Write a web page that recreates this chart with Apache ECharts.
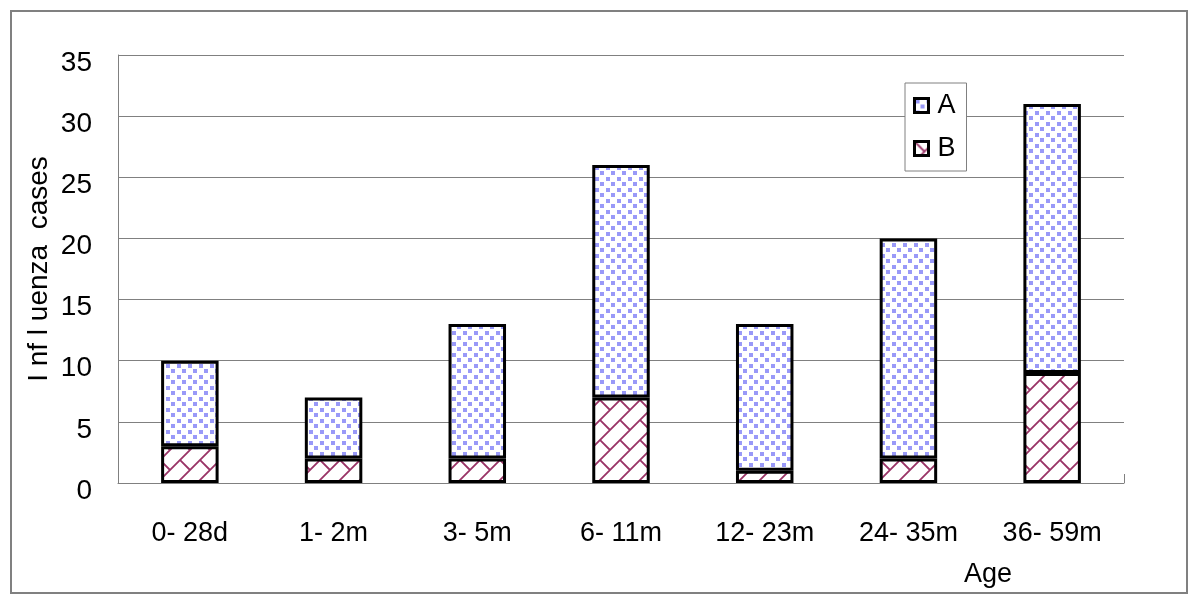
<!DOCTYPE html>
<html>
<head>
<meta charset="utf-8">
<script src="https://cdn.jsdelivr.net/npm/echarts@6/dist/echarts.min.js"></script>
<style>
html,body{margin:0;padding:0;background:#fff;}
#chart{width:1200px;height:604px;}
</style>
</head>
<body>
<div id="chart"></div>
<script>
const categories = ['0- 28d', '1- 2m', '3- 5m', '6- 11m', '12- 23m', '24- 35m', '36- 59m'];
const seriesNames = ['A', 'B'];
const valuesB = [3, 2, 2, 7, 1, 2, 9];
const valuesA = [7, 5, 11, 19, 12, 18, 22];
const yTicks = [0, 5, 10, 15, 20, 25, 30, 35];
const yAxisName = 'I nf l uenza  cases';
const xAxisName = 'Age';

function patternA() {
  const s = 11;
  const c = document.createElement('canvas');
  c.width = s; c.height = s;
  const g = c.getContext('2d');
  g.fillStyle = '#ffffff'; g.fillRect(0, 0, s, s);
  g.fillStyle = '#9999f8';
  g.fillRect(1, 1, 4, 4);
  g.fillRect(6, 6, 4, 4);
  return c;
}
function patternB() {
  const s = 20;
  const c = document.createElement('canvas');
  c.width = s; c.height = s;
  const g = c.getContext('2d');
  g.fillStyle = '#ffffff'; g.fillRect(0, 0, s, s);
  g.strokeStyle = '#993366'; g.lineWidth = 1.8;
  g.beginPath();
  g.moveTo(-2, s + 2); g.lineTo(s + 2, -2);
  g.moveTo(-2, 2); g.lineTo(2, -2);
  g.moveTo(s - 2, s + 2); g.lineTo(s + 2, s - 2);
  g.moveTo(0, 0); g.lineTo(s / 2, s / 2);
  g.stroke();
  return c;
}

const chart = echarts.init(document.getElementById('chart'), null, {renderer: 'canvas'});
const FONT = '"Liberation Sans", Arial, sans-serif';
const fillA = {image: patternA(), repeat: 'repeat'};
const fillB = {image: patternB(), repeat: 'repeat'};

chart.setOption({
  animation: false,
  backgroundColor: '#ffffff',
  textStyle: {fontFamily: FONT, color: '#000'},
  grid: {left: 118, right: 76, top: 55, bottom: 121, containLabel: false},
  legend: {
    data: seriesNames,
    orient: 'vertical',
    left: 905, top: 83,
    backgroundColor: '#ffffff',
    borderColor: '#808080', borderWidth: 1,
    padding: [9, 11, 9, 8],
    itemWidth: 14, itemHeight: 14,
    itemGap: 16,
    icon: 'rect',
    itemStyle: {borderColor: '#000', borderWidth: 3},
    textStyle: {fontFamily: FONT, fontSize: 27, color: '#000', lineHeight: 26, padding: [0, 0, 0, 4]}
  },
  xAxis: {
    type: 'category',
    data: categories,
    name: xAxisName,
    nameLocation: 'middle',
    nameGap: 78,
    nameMoveOverlap: false,
    nameTextStyle: {fontFamily: FONT, fontSize: 27, color: '#000', padding: [0, 0, 0, 734]},
    axisLine: {lineStyle: {color: '#808080', width: 1}},
    axisTick: {show: false},
    axisLabel: {fontFamily: FONT, fontSize: 27, color: '#000', margin: 37}
  },
  yAxis: {
    type: 'value',
    min: 0, max: 35, interval: 5,
    name: yAxisName,
    nameLocation: 'middle',
    nameRotate: 90,
    nameGap: 65,
    nameMoveOverlap: false,
    nameTextStyle: {fontFamily: FONT, fontSize: 28, color: '#000'},
    axisLine: {show: true, lineStyle: {color: '#808080', width: 1}},
    axisTick: {show: false},
    splitLine: {lineStyle: {color: '#808080', width: 1}},
    axisLabel: {
      fontFamily: FONT, fontSize: 28, color: '#000', margin: 26,
      verticalAlign: 'top', lineHeight: 16,
      formatter: function (v) { return yTicks.indexOf(v) >= 0 ? String(v) : ''; }
    }
  },
  series: [
    {
      name: seriesNames[1], type: 'bar', stack: 'total', data: valuesB,
      barWidth: '40%',
      itemStyle: {color: fillB, borderColor: '#000', borderWidth: 3}
    },
    {
      name: seriesNames[0], type: 'bar', stack: 'total', data: valuesA,
      barWidth: '40%',
      itemStyle: {color: fillA, borderColor: '#000', borderWidth: 3}
    }
  ],
  graphic: [
    {type: 'rect', shape: {x: 11, y: 11, width: 1176, height: 582},
     style: {fill: 'none', stroke: '#808080', lineWidth: 2}, silent: true, z: -1},
    {type: 'line', shape: {x1: 1124.5, y1: 474, x2: 1124.5, y2: 483},
     style: {stroke: '#808080', lineWidth: 1}, silent: true}
  ]
});
</script>
</body>
</html>
